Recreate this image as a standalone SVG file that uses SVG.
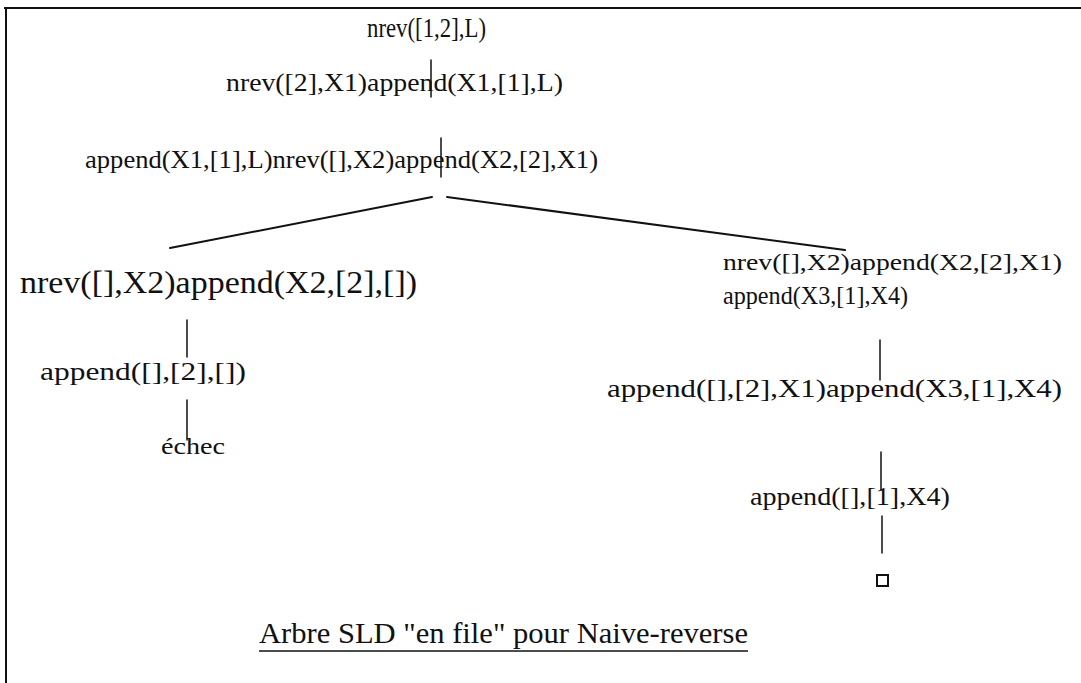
<svg xmlns="http://www.w3.org/2000/svg" width="1081" height="683" viewBox="0 0 1081 683">
  <style>
    .frame { stroke: #111; stroke-width: 2; fill: none; }
    .edge { stroke: #111; stroke-width: 1.5; fill: none; stroke-linecap: round; }
    .branch { stroke: #111; stroke-width: 2; fill: none; stroke-linecap: round; }
    .goal { font-family: "Liberation Serif", "DejaVu Serif", serif; fill: #111; }
    .title { font-family: "Liberation Serif", serif; font-size: 30px; fill: #111; }
  </style>
  <rect width="1081" height="683" fill="#ffffff"/>

  <!-- frame: top and left rules only -->
  <g id="frame">
    <line class="frame" x1="4" y1="8" x2="1081" y2="8"/>
    <line class="frame" x1="6" y1="8" x2="6" y2="683"/>
  </g>

  <!-- connectors of the SLD tree -->
  <g id="connectors">
    <line class="edge" x1="431" y1="60" x2="431" y2="97"/>
    <line class="edge" x1="441" y1="138" x2="441" y2="177"/>
    <line class="branch" x1="432" y1="197" x2="170" y2="248"/>
    <line class="branch" x1="447" y1="197" x2="845" y2="250"/>
    <line class="edge" x1="187" y1="320" x2="187" y2="357"/>
    <line class="edge" x1="187" y1="400" x2="187" y2="440"/>
    <line class="edge" x1="880" y1="340" x2="880" y2="380"/>
    <line class="edge" x1="881" y1="452" x2="881" y2="490"/>
    <line class="edge" x1="882" y1="516" x2="882" y2="553"/>
  </g>

  <!-- goal nodes -->
  <g id="n_root">
    <text class="goal" x="367" y="37" font-size="28" textLength="119" lengthAdjust="spacingAndGlyphs">nrev([1,2],L)</text>
  </g>
  <g id="n_level1">
    <text class="goal" x="226" y="91" font-size="25" textLength="337" lengthAdjust="spacingAndGlyphs">nrev([2],X1)append(X1,[1],L)</text>
  </g>
  <g id="n_level2">
    <text class="goal" x="85" y="168" font-size="26" textLength="513" lengthAdjust="spacingAndGlyphs">append(X1,[1],L)nrev([],X2)append(X2,[2],X1)</text>
  </g>
  <g id="n_left1">
    <text class="goal" x="20" y="293" font-size="32" textLength="397" lengthAdjust="spacingAndGlyphs">nrev([],X2)append(X2,[2],[])</text>
  </g>
  <g id="n_left2">
    <text class="goal" x="40" y="380" font-size="26" textLength="206" lengthAdjust="spacingAndGlyphs">append([],[2],[])</text>
  </g>
  <g id="n_fail">
    <text class="goal" x="161" y="454" font-size="24" textLength="64" lengthAdjust="spacingAndGlyphs">échec</text>
  </g>
  <g id="n_right1">
    <text class="goal" x="723" y="270" font-size="24" textLength="339" lengthAdjust="spacingAndGlyphs">nrev([],X2)append(X2,[2],X1)</text>
    <text class="goal" x="723" y="304" font-size="25" textLength="185" lengthAdjust="spacingAndGlyphs">append(X3,[1],X4)</text>
  </g>
  <g id="n_right2">
    <text class="goal" x="607" y="397" font-size="26" textLength="455" lengthAdjust="spacingAndGlyphs">append([],[2],X1)append(X3,[1],X4)</text>
  </g>
  <g id="n_right3">
    <text class="goal" x="750" y="505" font-size="25" textLength="200" lengthAdjust="spacingAndGlyphs">append([],[1],X4)</text>
  </g>
  <g id="n_success">
    <rect x="877" y="575" width="11" height="11" fill="none" stroke="#111" stroke-width="2"/>
  </g>

  <!-- caption -->
  <g id="caption">
    <text class="title" x="259" y="643" textLength="489" lengthAdjust="spacingAndGlyphs">Arbre SLD "en file" pour Naive-reverse</text>
    <line x1="259" y1="651" x2="748" y2="651" stroke="#111" stroke-width="1.5"/>
  </g>
</svg>
